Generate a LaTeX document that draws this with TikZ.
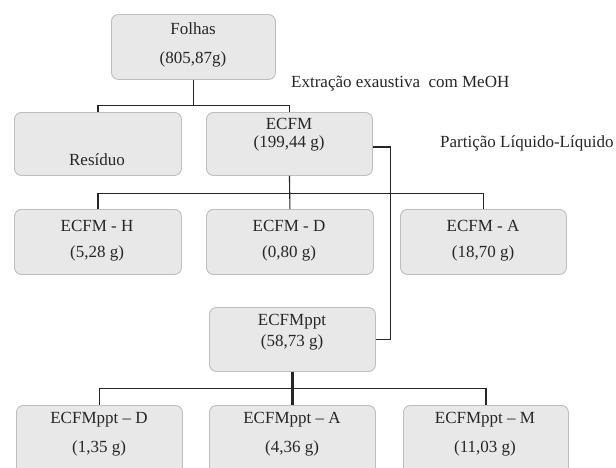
\documentclass[tikz,border=0pt]{standalone}
\usepackage{fontspec}
\setmainfont{Liberation Serif}
\definecolor{boxfill}{HTML}{E8E8E8}
\definecolor{boxline}{HTML}{BEBEBE}
\definecolor{ink}{HTML}{262626}
\tikzset{
  boxnode/.style={draw=boxline, fill=boxfill, rounded corners=7pt, line width=0.9pt, anchor=north west, inner sep=0pt},
  txt/.style={text=ink, font=\fontsize{17}{20}\selectfont, inner sep=0pt},
  link/.style={draw=ink, line width=1.1pt},
  thicklink/.style={draw=ink, line width=3pt},
}
\begin{document}
\begin{tikzpicture}[x=1pt,y=-1pt]
\useasboundingbox (0,0) rectangle (616,467);
\clip (0,0) rectangle (616,467);
\fill[white] (0,0) rectangle (616,467);
% boxes
\node[boxnode, minimum width=164pt, minimum height=65pt] (folhas) at (111,14) {};
\node[boxnode, minimum width=167pt, minimum height=63pt] (res) at (14,112) {};
\node[boxnode, minimum width=166pt, minimum height=63pt] (ecfm) at (206,112) {};
\node[boxnode, minimum width=167pt, minimum height=65pt] (h) at (14,209) {};
\node[boxnode, minimum width=167pt, minimum height=65pt] (d) at (206,209) {};
\node[boxnode, minimum width=166pt, minimum height=65pt] (a) at (400,209) {};
\node[boxnode, minimum width=166pt, minimum height=64pt] (ppt) at (209,307) {};
\node[boxnode, minimum width=166pt, minimum height=75pt] (bd) at (16,405) {};
\node[boxnode, minimum width=166pt, minimum height=75pt] (ba) at (209,405) {};
\node[boxnode, minimum width=165pt, minimum height=75pt] (bm) at (403,405) {};
% texts
\node[txt] (t1) at (193,29) {Folhas};
\node[txt] (t2) at (193,59) {(805,87g)};
\node[txt, anchor=west] (t3) at (291,84) {Extração exaustiva\ \ com MeOH};
\node[txt] (t4) at (97,160) {Resíduo};
\node[txt] (t5) at (289,124) {ECFM};
\node[txt] (t6) at (289,143) {(199,44 g)};
\node[txt, anchor=west] (t7) at (440,143) {Partição Líquido-Líquido};
\node[txt] (t8) at (97,226) {ECFM - H};
\node[txt] (t9) at (97,253) {(5,28 g)};
\node[txt] (t10) at (289,226) {ECFM - D};
\node[txt] (t11) at (289,253) {(0,80 g)};
\node[txt] (t12) at (483,226) {ECFM - A};
\node[txt] (t13) at (483,253) {(18,70 g)};
\node[txt] (t14) at (292,322) {ECFMppt};
\node[txt] (t15) at (292,342) {(58,73 g)};
\node[txt] (t16) at (99,420) {ECFMppt – D};
\node[txt] (t17) at (99,448) {(1,35 g)};
\node[txt] (t18) at (292,420) {ECFMppt – A};
\node[txt] (t19) at (292,448) {(4,36 g)};
\node[txt] (t20) at (485,420) {ECFMppt – M};
\node[txt] (t21) at (485,448) {(11,03 g)};
% connectors
\path (folhas.south) ++(0,26) coordinate (j1);
\draw[link] (folhas.south) -- (j1);
\draw[link] (res.north) |- (j1) -| (ecfm.north);
\path (ecfm.south) ++(0,18) coordinate (j2);
\draw[link] (ecfm.south) -- (d.north);
\draw[link] (h.north) |- (j2) -| (a.north);
\path (ecfm.east) ++(18,3) coordinate (r0);
\path (ppt.east) ++(15,0) coordinate (r1);
\draw[link] (ecfm.east |- r0) -- (r0) -- (r1) -- (ppt.east);
\path (ppt.south) ++(0,17) coordinate (j3);
\draw[link] (bd.north) |- (j3) -| (bm.north);
\draw[thicklink] (ppt.south) -- (ba.north);
\end{tikzpicture}
\end{document}
